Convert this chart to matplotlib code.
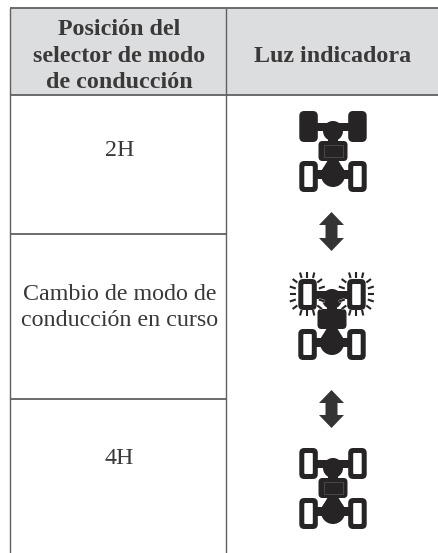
import matplotlib
matplotlib.use("Agg")
import matplotlib.pyplot as plt
from matplotlib.patches import FancyBboxPatch, Rectangle, Circle, Polygon

W, H = 438, 553
header_left = ["Posición del", "selector de modo", "de conducción"]
header_right = "Luz indicadora"
row_labels = [["2H"], ["Cambio de modo de", "conducción en curso"], ["4H"]]
DARK = "#262425"
TXT = "#3a3839"
LINE = "#606060"
HEAD = "#dcddde"

fig = plt.figure(figsize=(W/100, H/100), dpi=100)
ax = fig.add_axes([0, 0, 1, 1])
ax.set_xlim(0, W); ax.set_ylim(H, 0); ax.axis("off")

L, M, T, HB, B = 10, 226, 7.5, 94.7, 553
ax.add_patch(Rectangle((L, T), W-L, HB-T, fc=HEAD, ec="none", zorder=0))
for x in (L, M):
    ax.plot([x, x], [T, B], color=LINE, lw=1.0, solid_capstyle="butt")
ax.plot([L, W], [T, T], color=LINE, lw=1.3, solid_capstyle="butt")
ax.plot([L, W], [HB, HB], color=LINE, lw=1.3, solid_capstyle="butt")
for y in (233.7, 399):
    ax.plot([L, M], [y, y], color=LINE, lw=1.3, solid_capstyle="butt")

font = dict(family="Liberation Serif", color=TXT, ha="center", va="center")
for t, y in zip(header_left, (29.5, 56, 82)):
    ax.text(119, y, t, fontsize=17.3, fontweight="bold", **font)
ax.text(332.5, 56, header_right, fontsize=17.3, fontweight="bold", **font)
ax.text(119.5, 150, row_labels[0][0], fontsize=17.3, **font)
ax.text(120, 294, row_labels[1][0], fontsize=17.3, **font)
ax.text(120, 320.5, row_labels[1][1], fontsize=17.3, **font)
ax.text(119.5, 458, row_labels[2][0], fontsize=17.3, **font)


def wheel(x, y, filled, w=18.5, h=31):
    pad = 5
    ax.add_patch(FancyBboxPatch((x+pad, y+pad), w-2*pad, h-2*pad,
                 boxstyle=f"round,pad={pad},rounding_size={pad}",
                 fc=DARK, ec="none", zorder=3))
    if not filled:
        ax.add_patch(FancyBboxPatch((x+5, y+5), w-10, h-10,
                     boxstyle="round,pad=0,rounding_size=1",
                     fc="white", ec="none", zorder=4))


def car(cx, top, front_filled, box_detail=True):
    ax.add_patch(Rectangle((cx-5, top+14), 10, 50, fc=DARK, ec="none", zorder=2))
    ax.add_patch(Rectangle((cx-25, top+12), 50, 8, fc=DARK, ec="none", zorder=2))
    ax.add_patch(Rectangle((cx-25, top+59), 50, 9, fc=DARK, ec="none", zorder=2))
    ax.add_patch(Circle((cx, top+20), 10, fc=DARK, ec="none", zorder=2))
    ax.add_patch(Circle((cx, top+64), 12, fc=DARK, ec="none", zorder=2))
    ax.add_patch(Polygon([(cx-5, top+49), (cx+5, top+49), (cx+11, top+59), (cx-11, top+59)],
                 fc=DARK, ec="none", zorder=2))
    ax.add_patch(FancyBboxPatch((cx-10.5, top+34), 21, 12,
                 boxstyle="round,pad=4,rounding_size=4", fc=DARK, ec="none", zorder=3))
    if box_detail:
        ax.add_patch(Rectangle((cx-9.5, top+34), 19, 12, fc="none",
                     ec="#4a4849", lw=0.7, zorder=4))
    wheel(cx-33.7, top, front_filled)
    wheel(cx+15.2, top, front_filled)
    wheel(cx-33.7, top+50, False)
    wheel(cx+15.2, top+50, False)


# ray strokes of a lit wheel, as (dx0, dy0, dx1, dy1) from the wheel centre
RAYS_COMMON = [(-7.3, -21.5, -5.7, -16), (0, -22, 0, -16), (7, -21.5, 5.7, -16),
               (-7.3, 21.5, -5.7, 16), (0, 22, 0, 16), (7, 21.5, 5.7, 16),
               (-14.7, -15, -10, -11.5), (14.7, -15, 10, -11.5),
               (-14.7, 15, -10, 11.5), (14.7, 15, 10, 11.5)]
RAYS_SIDE = [(17.5, -7.5, 11.5, -5.5), (17.5, 7.5, 11.5, 5.5)]


def rays(cx, cy, outer_sign):
    segs = list(RAYS_COMMON)
    segs += [(s*a, b, s*c, d) for s in (1, -1) for a, b, c, d in RAYS_SIDE]
    segs.append((outer_sign*17.5, 0, outer_sign*11.5, 0))
    for a, b, c, d in segs:
        ax.plot([cx+a, cx+c], [cy+b, cy+d], color="white", lw=2.0,
                solid_capstyle="butt", zorder=5)
        ax.plot([cx+a, cx+c], [cy+b, cy+d], color=DARK, lw=1.5,
                solid_capstyle="butt", zorder=6)


def arrow(cx, y0, y1):
    hw, sw, hh = 12.5, 6, 13
    ax.add_patch(Polygon([(cx, y0), (cx+hw, y0+hh), (cx+sw, y0+hh), (cx+sw, y1-hh),
                          (cx+hw, y1-hh), (cx, y1), (cx-hw, y1-hh), (cx-sw, y1-hh),
                          (cx-sw, y0+hh), (cx-hw, y0+hh)], fc="#353435", ec="none"))


car(333, 111, True)
car(332, 279, False, box_detail=False)
rays(307.3, 294, -1)
rays(356.3, 294, 1)
car(333, 448, False)
arrow(331.5, 212, 251)
arrow(331.5, 390, 428)

fig.savefig("out.png", dpi=100)
